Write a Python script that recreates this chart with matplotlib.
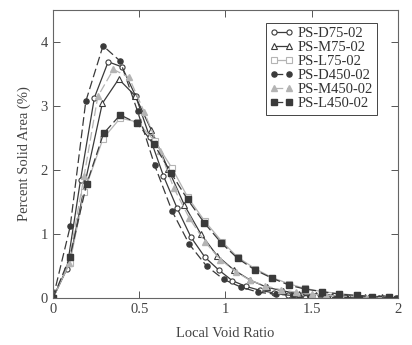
import matplotlib
matplotlib.use("Agg")
import matplotlib.pyplot as plt

plt.rcParams['font.family'] = ['Liberation Serif', 'DejaVu Serif']

# values, one x/y pair per series
d75_x = [0, 0.08, 0.16, 0.24, 0.32, 0.40, 0.48, 0.56, 0.64, 0.72, 0.80, 0.88, 0.96, 1.04,
         1.12, 1.20, 1.28, 1.36, 1.44, 1.52, 1.60, 1.68, 1.76, 1.84, 1.92, 2.0]
d75_y = [0, 0.45, 1.85, 3.13, 3.69, 3.61, 3.15, 2.52, 1.91, 1.40, 0.95, 0.64, 0.44, 0.27,
         0.18, 0.12, 0.08, 0.05, 0.04, 0.03, 0.02, 0.02, 0.01, 0.01, 0.0, 0.0]

m75_x = [0, 0.095, 0.19, 0.286, 0.381, 0.476, 0.571, 0.667, 0.762, 0.857, 0.952, 1.048,
         1.143, 1.238, 1.333, 1.429, 1.524, 1.619, 1.714, 1.81, 1.905, 2.0]
m75_y = [0, 0.55, 1.85, 3.04, 3.42, 3.16, 2.62, 2.02, 1.45, 1.00, 0.66, 0.44,
         0.28, 0.17, 0.11, 0.07, 0.05, 0.03, 0.02, 0.01, 0.01, 0.0]

l75_x = [0, 0.098, 0.18, 0.29, 0.39, 0.49, 0.59, 0.69, 0.78, 0.88, 0.98, 1.07, 1.17,
         1.27, 1.37, 1.46, 1.56, 1.66, 1.76, 1.85, 1.95]
l75_y = [0, 0.55, 1.65, 2.49, 2.81, 2.75, 2.45, 2.03, 1.58, 1.20, 0.88, 0.64, 0.46,
         0.32, 0.22, 0.15, 0.10, 0.07, 0.04, 0.02, 0.01]

d450_x = [0, 0.10, 0.19, 0.29, 0.39, 0.49, 0.59, 0.69, 0.79, 0.89, 0.99, 1.09, 1.19,
          1.29, 1.39, 1.49, 1.59, 1.69, 1.79, 1.89, 1.99]
d450_y = [0, 1.12, 3.07, 3.94, 3.70, 2.92, 2.07, 1.36, 0.84, 0.50, 0.29, 0.17, 0.09,
          0.06, 0.04, 0.02, 0.01, 0.01, 0.0, 0.0, 0.0]

m450_x = [0, 0.09, 0.18, 0.26, 0.35, 0.44, 0.53, 0.62, 0.70, 0.79, 0.88, 0.97, 1.06,
          1.14, 1.23, 1.32, 1.41, 1.50, 1.58, 1.67, 1.76, 1.85, 1.94]
m450_y = [0, 0.55, 1.90, 3.15, 3.57, 3.45, 2.90, 2.30, 1.72, 1.25, 0.88, 0.60, 0.41,
          0.28, 0.19, 0.13, 0.09, 0.06, 0.04, 0.03, 0.02, 0.01, 0.0]

l450_x = [0, 0.098, 0.195, 0.293, 0.39, 0.488, 0.586, 0.683, 0.78, 0.878, 0.976, 1.07,
          1.17, 1.27, 1.37, 1.46, 1.56, 1.66, 1.76, 1.85, 1.95]
l450_y = [0, 0.64, 1.78, 2.57, 2.86, 2.73, 2.40, 1.96, 1.54, 1.17, 0.86, 0.62,
          0.44, 0.31, 0.20, 0.14, 0.10, 0.06, 0.04, 0.02, 0.01]

dark = '#3a3a3a'
light = '#b4b4b4'

fig = plt.figure(figsize=(4.12, 3.45), dpi=100)
ax = fig.add_axes([0.1286, 0.1362, 0.8374, 0.835])

ms = 3.7
ax.plot(d75_x, d75_y, color=dark, lw=0.9, marker='o', ms=ms, mfc='white', mec=dark,
        mew=0.8, label='PS-D75-02')
ax.plot(m75_x, m75_y, color=dark, lw=0.9, marker='^', ms=ms, mfc='white', mec=dark,
        mew=0.8, label='PS-M75-02')
ax.plot(l75_x, l75_y, color=light, lw=0.9, marker='s', ms=ms, mfc='white', mec=light,
        mew=0.8, label='PS-L75-02')
ax.plot(d450_x, d450_y, color=dark, lw=0.9, ls=(0, (7, 3)), marker='o', ms=ms,
        mfc=dark, mec=dark, label='PS-D450-02')
ax.plot(m450_x, m450_y, color=light, lw=0.9, ls=(0, (7, 3)), marker='^', ms=ms,
        mfc=light, mec=light, label='PS-M450-02')
ax.plot(l450_x, l450_y, color=dark, lw=0.9, ls=(0, (7, 3)), marker='s', ms=ms,
        mfc=dark, mec=dark, label='PS-L450-02')

ax.set_xlim(0, 2)
ax.set_ylim(0, 4.5)
ax.set_xticks([0, 0.5, 1, 1.5, 2])
ax.set_xticklabels(['0', '0.5', '1', '1.5', '2'])
ax.set_yticks([0, 1, 2, 3, 4])
ax.tick_params(direction='in', top=True, right=True, length=5, width=0.7,
               colors='#555555', labelcolor='#444444', labelsize=10.5)
for s in ax.spines.values():
    s.set_color('#666666')
    s.set_linewidth(0.8)

ax.set_xlabel('Local Void Ratio', fontsize=10.5, color='#444444', labelpad=8)
ax.set_ylabel('Percent Solid Area (%)', fontsize=10.5, color='#444444', labelpad=7)

leg = ax.legend(loc='upper right', bbox_to_anchor=(0.94, 0.955), numpoints=2,
                handlelength=1.6, handletextpad=0.3, labelspacing=0.05,
                borderpad=0.3, fontsize=10.5, fancybox=False, framealpha=1,
                edgecolor='#444444', borderaxespad=0)
leg.get_frame().set_linewidth(0.7)
for t in leg.get_texts():
    t.set_color('#333333')

fig.savefig('out.png', dpi=100)
